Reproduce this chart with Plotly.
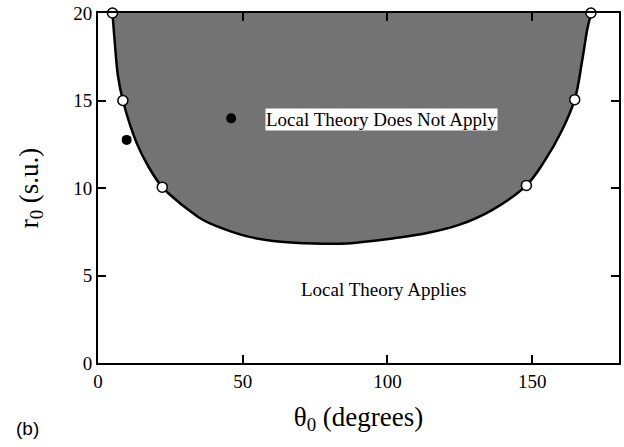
import plotly.graph_objects as go

# Boundary curve (theta0 in degrees, r0 in s.u.)
curve_theta = [5.0, 5.8, 6.9, 8.6, 13.4, 17.5, 22.2, 29.1, 32.5, 36.0, 40.5, 51.9, 63.2, 74.6,
               86.0, 90.5, 101.9, 113.3, 124.7, 136.1, 148.0, 154.3, 160.0, 164.7, 167.3,
               169.2, 170.5]
curve_r = [20.0, 18.3, 16.4, 15.0, 12.55, 11.2, 10.05, 9.03, 8.6, 8.2, 7.85, 7.22, 6.93, 6.83,
           6.83, 6.9, 7.12, 7.41, 7.89, 8.74, 10.15, 11.55, 13.2, 15.05, 17.3, 19.2, 20.0]

# Computed boundary points (open circles)
open_theta = [5.0, 8.6, 22.2, 148.0, 164.7, 170.3]
open_r = [20.0, 15.0, 10.05, 10.15, 15.05, 20.0]

# Other points (filled circles)
filled_theta = [9.9, 46.0]
filled_r = [12.75, 13.98]

x_ticks = [0, 50, 100, 150]
y_ticks = [0, 5, 10, 15, 20]

serif = "Liberation Serif, Times New Roman, serif"

fig = go.Figure()
fig.add_trace(go.Scatter(
    x=curve_theta, y=curve_r, mode="lines", fill="toself",
    fillcolor="rgb(115,115,115)",
    line=dict(color="black", width=2.5, shape="spline", smoothing=1.0),
    hoverinfo="skip", showlegend=False))
fig.add_trace(go.Scatter(
    x=open_theta, y=open_r, mode="markers", cliponaxis=False,
    marker=dict(size=10, color="white", line=dict(color="black", width=1.5)),
    showlegend=False))
fig.add_trace(go.Scatter(
    x=filled_theta, y=filled_r, mode="markers",
    marker=dict(size=10, color="black"), showlegend=False))

fig.add_annotation(x=98, y=13.9, text="Local Theory Does Not Apply", showarrow=False,
                   font=dict(family=serif, size=19, color="black"),
                   bgcolor="white", borderpad=0)
fig.add_annotation(x=98.5, y=4.2, text="Local Theory Applies", showarrow=False,
                   font=dict(family=serif, size=19, color="black"))
fig.add_annotation(xref="paper", yref="paper", x=-0.136, y=-0.186,
                   xanchor="center", yanchor="middle",
                   text="(b)", showarrow=False,
                   font=dict(family="Liberation Sans, Arial, sans-serif", size=19, color="black"))

axis_common = dict(showline=True, linecolor="black", linewidth=2, mirror="ticks",
                   ticks="inside", ticklen=8, tickwidth=2, tickcolor="black",
                   showgrid=False, zeroline=False, automargin=False,
                   tickfont=dict(family=serif, size=19, color="black"))

fig.update_xaxes(range=[0, 180], tickvals=x_ticks, ticktext=[str(v) for v in x_ticks],
                 title=dict(text="θ<sub>0</sub> (degrees)", standoff=16,
                            font=dict(family=serif, size=27, color="black")),
                 **axis_common)
fig.update_yaxes(range=[0, 20], tickvals=y_ticks, ticktext=[str(v) for v in y_ticks],
                 title=dict(text="r<sub>0</sub> (s.u.)", standoff=27,
                            font=dict(family=serif, size=27, color="black")),
                 **axis_common)

fig.update_layout(width=624, height=447, margin=dict(l=98, r=5, t=13, b=84),
                  plot_bgcolor="white", paper_bgcolor="white")

fig.write_html("out.html", config={"displayModeBar": False},
               post_script="document.body.style.margin='0';")
